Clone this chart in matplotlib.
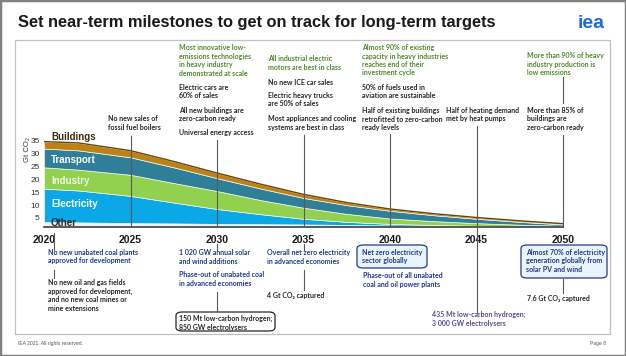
import matplotlib
matplotlib.use('Agg')
import matplotlib.pyplot as plt
import matplotlib.transforms as mtransforms
from matplotlib.patches import Rectangle, FancyBboxPatch

W, H = 626, 356

# emissions by sector, Gt CO2 (layer thickness, stacked from bottom)
years = [2020, 2022, 2025, 2027.5, 2030, 2032.5, 2035, 2037.5, 2040, 2042.5, 2045, 2047.5, 2050]
other = [3.4, 3.3, 3.0, 2.9, 2.7, 2.6, 2.5, 2.3, 2.1, 1.9, 1.7, 1.6, 1.5]
electricity = [13.0, 12.4, 10.6, 8.1, 5.8, 3.9, 2.2, 1.2, 0.6, 0.4, 0.3, 0.2, 0.1]
industry = [8.3, 8.1, 8.2, 7.6, 7.0, 5.5, 4.3, 3.1, 2.1, 1.5, 1.0, 0.6, 0.4]
transport = [7.3, 7.5, 6.8, 6.1, 5.0, 4.5, 3.8, 3.4, 3.0, 2.3, 1.7, 1.1, 0.5]
buildings = [2.7, 2.9, 2.6, 2.3, 2.0, 1.7, 1.4, 1.0, 0.7, 0.6, 0.5, 0.4, 0.3]

layer_names = ['Other', 'Electricity', 'Industry', 'Transport', 'Buildings']
layer_colors = ['#f2f2f2', '#0aa8e6', '#92d050', '#2f7f99', '#bd8216']
yticks = [5, 10, 15, 20, 25, 30, 35]
milestone_years = [2020, 2025, 2030, 2035, 2040, 2045, 2050]

FONT = ['Lato', 'DejaVu Sans']
ARIAL = ['Liberation Sans', 'DejaVu Sans']
GREEN = '#4f8a2b'
DARK = '#262626'
BLUE = '#1f3a8c'
PURPLE = '#5a4a8a'
FS = 5.0

fig = plt.figure(figsize=(W / 100, H / 100), dpi=100)
fig.patch.set_facecolor('white')


def fx(px):
    return px / W


def fy(py):
    return 1 - py / H


def note(px, py, s, color=DARK, **kw):
    fig.text(fx(px), fy(py), s, color=color, fontsize=FS, fontweight='bold',
             family=FONT, va='top', ha='left', linespacing=1.25, **kw)


# slide frame
fig.add_artist(Rectangle((0, 0), 1, 1, transform=fig.transFigure, fill=False,
                         edgecolor='#7f7f7f', lw=2.5))
fig.add_artist(Rectangle((fx(15), fy(334)), fx(610) - fx(15), fy(40) - fy(334),
                         transform=fig.transFigure, fill=False, edgecolor='#c0c0c0', lw=0.9))

fig.text(fx(18), fy(22), 'Set near-term milestones to get on track for long-term targets',
         fontsize=11.8, fontweight='bold', family=ARIAL, va='center', ha='left', color='#1a1a1a')
fig.text(fx(605), fy(23), 'iea', fontsize=14, fontweight='bold', family=ARIAL,
         va='center', ha='right', color='#1d6ae0')
fig.text(fx(18), fy(344), 'IEA 2021. All rights reserved.', fontsize=3.6, family=ARIAL,
         va='center', ha='left', color='#555555')
fig.text(fx(606), fy(344), 'Page 8', fontsize=3.6, family=ARIAL,
         va='center', ha='right', color='#555555')

# chart
ax = fig.add_axes([fx(44), fy(227), fx(563) - fx(44), fy(128) - fy(227)])
ax.stackplot(years, other, electricity, industry, transport, buildings,
             colors=layer_colors, edgecolor='#f4f9ee', linewidth=0.5)
top = [o + e + i + t + b for o, e, i, t, b in zip(other, electricity, industry, transport, buildings)]
ax.plot(years, top, color='#6a4308', lw=1.0)
ax.set_xlim(2020, 2050)
ax.set_ylim(1.5, 40)
ax.set_yticks(yticks)
ax.set_yticklabels([str(v) for v in yticks], fontsize=6, family=ARIAL, color='#333333')
ax.tick_params(axis='y', length=0, pad=3)
ax.set_xticks(milestone_years)
ax.set_xticklabels([str(v) for v in milestone_years], fontsize=7.5, fontweight='bold',
                   family=ARIAL, color='#1a1a1a')
ax.tick_params(axis='x', length=0, pad=6)
for s in ['top', 'right', 'left']:
    ax.spines[s].set_visible(False)
ax.spines['bottom'].set_color('#404040')
ax.spines['bottom'].set_linewidth(1.2)
ax.patch.set_alpha(0)
fig.text(fx(27), fy(150), 'Gt CO₂', rotation=90, fontsize=5.5,
         family=ARIAL, color='#333333', ha='center', va='center')

# sector labels
label_y = {'Buildings': 36.5, 'Transport': 27.6, 'Industry': 19.4, 'Electricity': 10.5, 'Other': 3.0}
label_c = {'Buildings': '#3d2a10', 'Transport': 'white', 'Industry': '#f0f8e0',
           'Electricity': 'white', 'Other': '#262626'}
for name in layer_names:
    ax.text(2020.4, label_y[name], name, fontsize=7, fontweight='bold', family=ARIAL,
            color=label_c[name], va='center', ha='left')

# leader lines (x in years, y in figure pixels)
tr = mtransforms.blended_transform_factory(ax.transData, fig.transFigure)


def vline(year, y0, y1):
    fig.add_artist(plt.Line2D([year, year], [fy(y0), fy(y1)], transform=tr,
                              color='#595959', lw=0.8))


vline(2025, 136, 227)
vline(2030, 140, 227)
vline(2035, 135, 227)
vline(2040, 134, 227)
vline(2045, 126, 313)
vline(2050, 77, 103)
vline(2050, 135, 227)
vline(2020.6, 233, 250)
vline(2020.6, 270, 278)
vline(2030, 244, 250)
vline(2030, 292, 311)
vline(2035, 244, 250)
vline(2035, 270, 290)
vline(2050, 279, 293)

# milestones above the chart
note(108, 115, 'No new sales of\nfossil fuel boilers')
note(179, 44, 'Most innovative low-\nemissions technologies\nin heavy industry\ndemonstrated at scale', GREEN)
note(179, 84, 'Electric cars are\n60% of sales')
note(179, 107, 'All new buildings are\nzero-carbon ready')
note(179, 129, 'Universal energy access')
note(268, 55, 'All industrial electric\nmotors are best in class', GREEN)
note(268, 79, 'No new ICE car sales')
note(268, 92, 'Electric heavy trucks\nare 50% of sales')
note(268, 115, 'Most appliances and cooling\nsystems are best in class')
note(362, 44, 'Almost 90% of existing\ncapacity in heavy industries\nreaches end of their\ninvestment cycle', GREEN)
note(362, 84, '50% of fuels used in\naviation are sustainable')
note(362, 107, 'Half of existing buildings\nretrofitted to zero-carbon\nready levels')
note(446, 107, 'Half of heating demand\nmet by heat pumps')
note(527, 52, 'More than 90% of heavy\nindustry production is\nlow emissions', GREEN)
note(527, 107, 'More than 85% of\nbuildings are\nzero-carbon ready')

# milestones below the chart
note(48, 249, 'No new unabated coal plants\napproved for development', BLUE)
note(48, 279, 'No new oil and gas fields\napproved for development,\nand no new coal mines or\nmine extensions')
note(179, 249, '1 020 GW annual solar\nand wind additions', BLUE)
note(179, 271, 'Phase-out of unabated coal\nin advanced economies', BLUE)
note(267, 249, 'Overall net zero electricity\nin advanced economies', BLUE)
note(267, 292, '4 Gt CO₂ captured')
note(362, 249, 'Net zero electricity\nsector globally', BLUE)
note(363, 272, 'Phase-out of all unabated\ncoal and oil power plants', BLUE)
note(432, 311, '435 Mt low-carbon hydrogen;\n3 000 GW electrolysers', PURPLE)
note(526, 249, 'Almost 70% of electricity\ngeneration globally from\nsolar PV and wind', BLUE)
note(527, 295, '7.6 Gt CO₂ captured')
note(179, 315, '150 Mt low-carbon hydrogen;\n850 GW electrolysers')


def box(x0, y0, x1, y1, edge, face):
    fig.add_artist(FancyBboxPatch((fx(x0), fy(y1)), fx(x1) - fx(x0), fy(y0) - fy(y1),
                                  boxstyle='round,pad=0,rounding_size=0.01',
                                  transform=fig.transFigure, edgecolor=edge,
                                  facecolor=face, lw=0.9, zorder=-1))


box(176, 312, 275, 331, '#262626', 'white')
box(357, 245, 427, 268, BLUE, '#eaf4fc')
box(521, 245, 607, 278, BLUE, '#eaf4fc')

fig.savefig('out.png', dpi=100)
